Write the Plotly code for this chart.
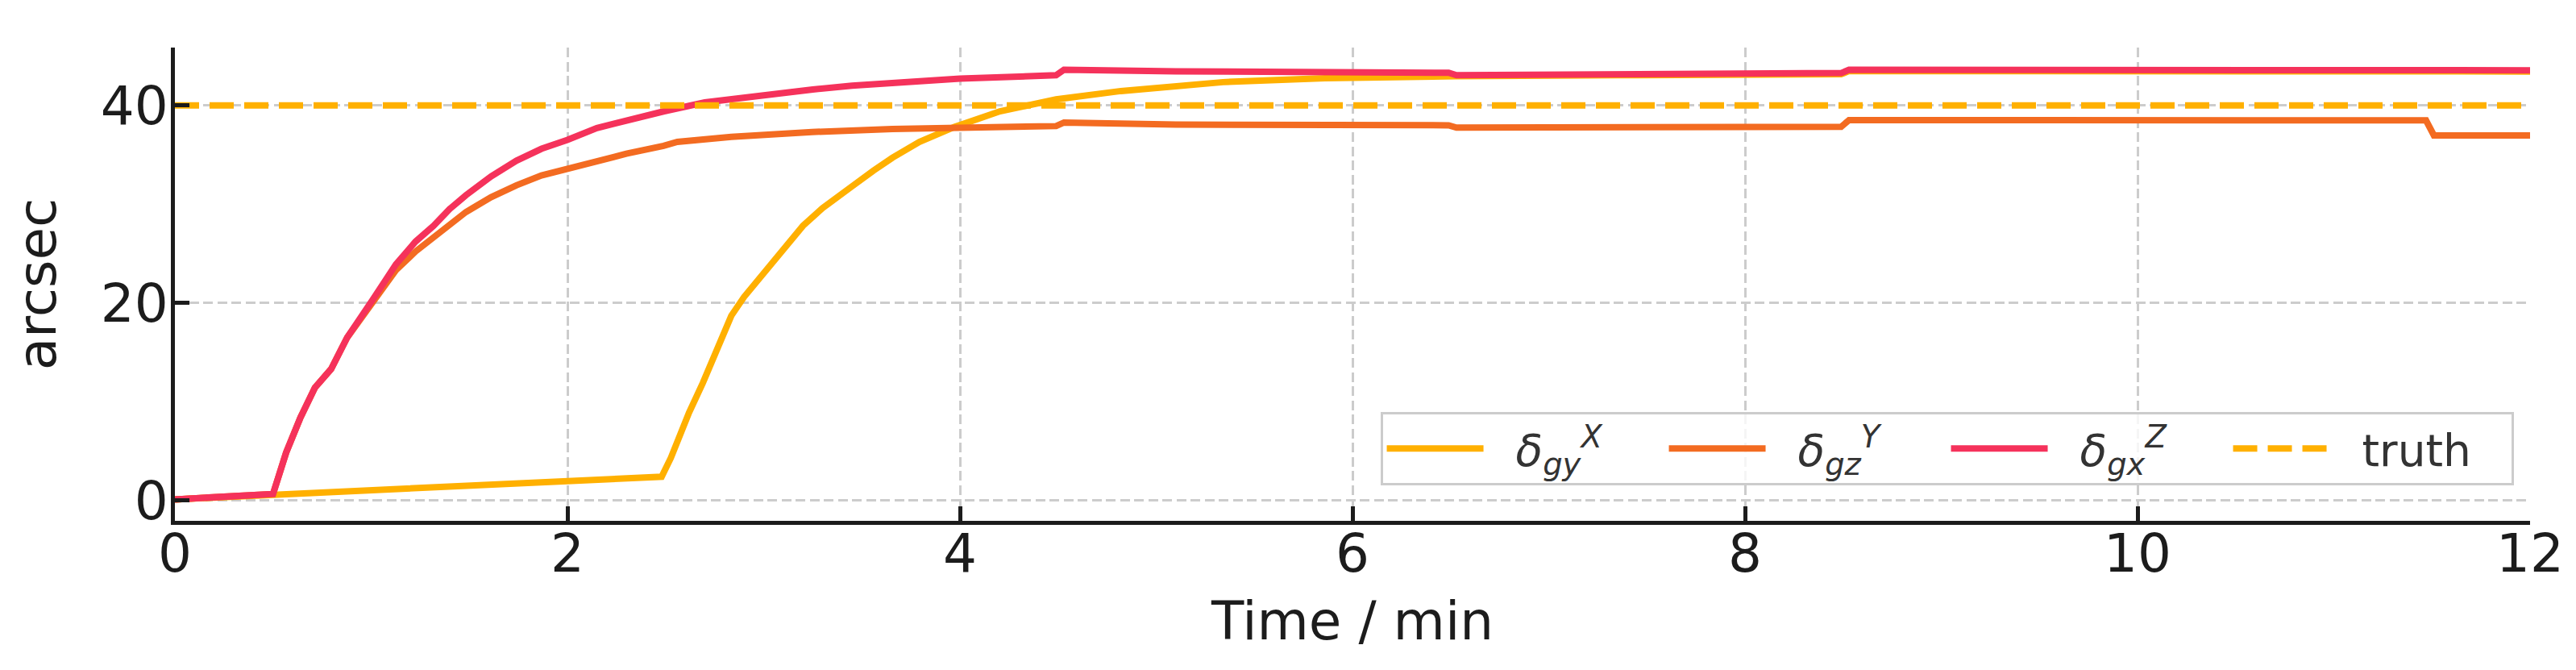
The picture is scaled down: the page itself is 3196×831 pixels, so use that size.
import plotly.graph_objects as go

# ---------------- data ----------------
x_ticks = [0, 2, 4, 6, 8, 10, 12]
y_ticks = [0, 20, 40]
truth_value = 40

# delta_gy^X  (yellow)
t_gy = [0, 0.5, 2.48, 2.527, 2.62, 2.69, 2.784, 2.835, 2.9, 3.0, 3.1, 3.2, 3.3, 3.4,
        3.45, 3.56, 3.656, 3.793, 3.971, 4.204, 4.49, 4.82, 5.09, 5.34, 5.86, 6.49,
        6.53, 7.35, 8.49, 8.53, 12]
v_gy = [0.1, 0.55, 2.4, 4.3, 8.9, 11.9, 16.3, 18.7, 20.6, 23.0, 25.5, 27.8, 29.6, 31.2,
        31.8, 33.4, 34.7, 36.3, 37.8, 39.4, 40.6, 41.45, 42.0, 42.35, 42.75, 42.95,
        42.95, 43.05, 43.15, 43.48, 43.43]

# delta_gz^Y  (orange)
t_gz = [0, 0.5, 0.567, 0.64, 0.713, 0.796, 0.878, 0.951, 1.007, 1.07, 1.126, 1.226,
        1.318, 1.4, 1.483, 1.611, 1.74, 1.868, 2.0, 2.15, 2.3, 2.49, 2.56, 2.835,
        3.246, 3.656, 4.0, 4.49, 4.53, 5.1, 6.49, 6.53, 8.49, 8.53, 11.47, 11.51, 12]
v_gz = [0.1, 0.65, 4.85, 8.4, 11.4, 13.3, 16.5, 18.5, 20.2, 21.9, 23.3, 25.2,
        26.6, 28.0, 29.2, 30.7, 31.9, 32.9, 33.6, 34.4, 35.1, 35.9, 36.3, 36.8,
        37.3, 37.6, 37.75, 37.9, 38.26, 38.05, 37.98, 37.75, 37.83, 38.5, 38.48, 36.96, 36.96]

# delta_gx^Z  (red)
t_gx = [0, 0.5, 0.567, 0.64, 0.713, 0.796, 0.878, 0.951, 1.007, 1.07, 1.126, 1.226,
        1.318, 1.4, 1.483, 1.611, 1.74, 1.868, 2.0, 2.15, 2.3, 2.493, 2.7, 2.97,
        3.25, 3.45, 4.0, 4.49, 4.53, 5.1, 6.49, 6.53, 7.35, 8.49, 8.53, 12]
v_gx = [0.1, 0.65, 4.85, 8.4, 11.4, 13.3, 16.5, 18.5, 20.3, 22.2, 23.9, 26.2,
        27.8, 29.5, 30.9, 32.8, 34.4, 35.6, 36.5, 37.7, 38.5, 39.4, 40.3, 41.0,
        41.6, 42.0, 42.7, 43.05, 43.6, 43.45, 43.3, 43.05, 43.15, 43.27, 43.6, 43.55]

labels = ["<i>δ</i><sub><i>gy</i></sub><sup><i>X</i></sup>",
          "<i>δ</i><sub><i>gz</i></sub><sup><i>Y</i></sup>",
          "<i>δ</i><sub><i>gx</i></sub><sup><i>Z</i></sup>",
          "truth"]

# ---------------- styling ----------------
C_YELLOW = "#FFB000"
C_ORANGE = "#F36B21"
C_RED = "#F5325B"
INK = "#1c1c1c"
FONT = "DejaVu Sans"
LW = 8
PAD = "&nbsp;&nbsp;"  # gap between legend swatch and label

fig = go.Figure()
fig.add_trace(go.Scatter(x=t_gy, y=v_gy, mode="lines", name=PAD + labels[0],
                         line=dict(color=C_YELLOW, width=LW)))
fig.add_trace(go.Scatter(x=t_gz, y=v_gz, mode="lines", name=PAD + labels[1],
                         line=dict(color=C_ORANGE, width=LW)))
fig.add_trace(go.Scatter(x=t_gx, y=v_gx, mode="lines", name=PAD + labels[2],
                         line=dict(color=C_RED, width=LW)))
fig.add_trace(go.Scatter(x=[x_ticks[0], x_ticks[-1]], y=[truth_value, truth_value],
                         mode="lines", name=PAD + labels[3],
                         line=dict(color=C_YELLOW, width=LW, dash="30px,13px")))

axis_common = dict(
    showline=True, linewidth=5, linecolor=INK, mirror=False,
    ticks="inside", ticklen=18, tickwidth=5, tickcolor=INK,
    showgrid=True, gridcolor="#cccccc", gridwidth=3.3, griddash="12px,5.5px",
    zeroline=False,
    tickfont=dict(family=FONT, size=66, color=INK),
    title_font=dict(family=FONT, size=66, color=INK),
)

fig.update_xaxes(range=[0, 12], tickvals=x_ticks, ticktext=[str(v) for v in x_ticks],
                 title_text="Time / min", title_standoff=24, ticklabelstandoff=-21,
                 **axis_common)
fig.update_yaxes(range=[-2.07, 45.85], tickvals=y_ticks, ticktext=[str(v) for v in y_ticks],
                 title_text="arcsec", title_standoff=36, ticklabelstandoff=-10,
                 **axis_common)

fig.update_layout(
    width=3196, height=831,
    margin=dict(l=209, r=65, t=51, b=193),
    paper_bgcolor="white", plot_bgcolor="white",
    font=dict(family=FONT, size=55, color=INK),
    showlegend=True,
    legend=dict(
        orientation="h",
        x=0.993, xanchor="right", y=0.075, yanchor="bottom",
        bgcolor="rgba(255,255,255,0.8)", bordercolor="#cccccc", borderwidth=3,
        font=dict(family=FONT, size=55, color="#333333"),
        itemwidth=120,
        entrywidth=215, entrywidthmode="pixels",
        traceorder="normal",
    ),
)

fig.write_html("out.html")
